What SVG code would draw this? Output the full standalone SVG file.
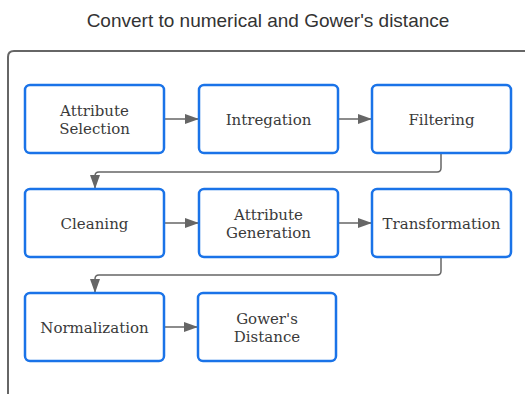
<svg xmlns="http://www.w3.org/2000/svg" width="525" height="394" viewBox="0 0 525 394">
<defs>
<style>
.box{fill:#fff;stroke:#1a73e8;stroke-width:2.5}
.lbl{font-family:"DejaVu Serif","Liberation Serif",serif;font-size:15px;fill:#3a3a3a;text-anchor:middle}
.con{fill:none;stroke:#666;stroke-width:1.5}
.title{font-family:"Liberation Sans",Arial,sans-serif;font-size:19px;fill:#333;text-anchor:middle}
</style>
<marker id="ah" viewBox="0 0 14 10" refX="14" refY="5" markerWidth="14" markerHeight="10" markerUnits="userSpaceOnUse" orient="auto">
<path d="M0,0 L14,5 L0,10 Z" fill="#666"/>
</marker>
</defs>
<rect width="525" height="394" fill="#fff"/>
<text class="title" x="268" y="27">Convert to numerical and Gower's distance</text>
<path d="M8,400 L8,57 Q8,51 14,51 L530,51" fill="none" stroke="#666" stroke-width="2"/>
<g id="connectors">
<path class="con" d="M164,119 L199,119" marker-end="url(#ah)"/>
<path class="con" d="M338,119 L372,119" marker-end="url(#ah)"/>
<path class="con" d="M441,153 L441,168 Q441,172 437,172 L99,172 Q95,172 95,176 L95,189" marker-end="url(#ah)"/>
<path class="con" d="M164,223 L199,223" marker-end="url(#ah)"/>
<path class="con" d="M338,223 L372,223" marker-end="url(#ah)"/>
<path class="con" d="M441,257 L441,271 Q441,275 437,275 L99,275 Q95,275 95,279 L95,293" marker-end="url(#ah)"/>
<path class="con" d="M164,327 L198,327" marker-end="url(#ah)"/>
</g>
<g id="attribute-selection"><rect class="box" x="25" y="85" width="139" height="68" rx="5"/><text class="lbl" x="94.5" y="116">Attribute</text><text class="lbl" x="94.5" y="134">Selection</text></g>
<g id="intregation"><rect class="box" x="199" y="85" width="139" height="68" rx="5"/><text class="lbl" x="268.5" y="125">Intregation</text></g>
<g id="filtering"><rect class="box" x="372" y="85" width="139" height="68" rx="5"/><text class="lbl" x="441.5" y="125">Filtering</text></g>
<g id="cleaning"><rect class="box" x="25" y="189" width="139" height="68" rx="5"/><text class="lbl" x="94.5" y="229">Cleaning</text></g>
<g id="attribute-generation"><rect class="box" x="199" y="189" width="139" height="68" rx="5"/><text class="lbl" x="268.5" y="220">Attribute</text><text class="lbl" x="268.5" y="238">Generation</text></g>
<g id="transformation"><rect class="box" x="372" y="189" width="139" height="68" rx="5"/><text class="lbl" x="441.5" y="229">Transformation</text></g>
<g id="normalization"><rect class="box" x="25" y="293" width="139" height="68" rx="5"/><text class="lbl" x="94.5" y="333">Normalization</text></g>
<g id="gowers-distance"><rect class="box" x="198" y="293" width="138" height="68" rx="5"/><text class="lbl" x="267" y="324">Gower's</text><text class="lbl" x="267" y="342">Distance</text></g>
</svg>
